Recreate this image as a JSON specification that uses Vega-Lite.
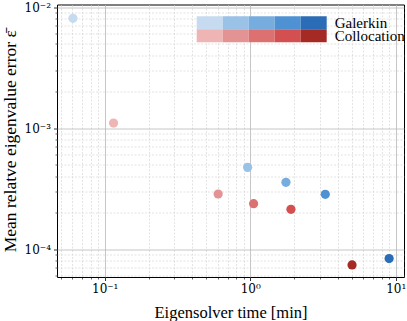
{
  "$schema": "https://vega.github.io/schema/vega-lite/v6.json",
  "width": 347,
  "height": 272.5,
  "autosize": {"type": "none"},
  "padding": {"left": 57, "top": 4.5, "right": 3, "bottom": 44},
  "config": {
    "font": "Liberation Serif",
    "view": {"stroke": "black", "strokeWidth": 1},
    "axis": {
      "domain": false,
      "labelFont": "DejaVu Serif",
      "titleFont": "Liberation Serif",
      "labelColor": "black",
      "titleColor": "black",
      "tickColor": "black",
      "titleFontWeight": "normal",
      "labelFontSize": 12,
      "titleFontSize": 16.5
    },
    "legend": {
      "titleFont": "Liberation Serif",
      "titleFontSize": 15,
      "titleFontWeight": "normal",
      "titleColor": "black"
    }
  },
  "data": {
    "values": [
      {"method": "Galerkin", "level": 1, "time": 0.0605, "error": 0.00807},
      {"method": "Galerkin", "level": 2, "time": 0.96, "error": 0.000473},
      {"method": "Galerkin", "level": 3, "time": 1.76, "error": 0.000356},
      {"method": "Galerkin", "level": 4, "time": 3.28, "error": 0.000283},
      {"method": "Galerkin", "level": 5, "time": 9.01, "error": 0.0000834},
      {"method": "Collocation", "level": 1, "time": 0.115, "error": 0.0011},
      {"method": "Collocation", "level": 2, "time": 0.602, "error": 0.000285},
      {"method": "Collocation", "level": 3, "time": 1.055, "error": 0.000237},
      {"method": "Collocation", "level": 4, "time": 1.905, "error": 0.000213},
      {"method": "Collocation", "level": 5, "time": 5.01, "error": 0.0000738}
    ]
  },
  "layer": [
    {
      "transform": [{"filter": "datum.method == 'Galerkin'"}],
      "mark": {"type": "circle", "size": 85, "opacity": 1},
      "encoding": {
        "x": {
          "field": "time", "type": "quantitative",
          "scale": {"type": "log", "domain": [0.047, 11.4], "nice": false},
          "axis": {
            "orient": "bottom", "title": null, "labels": false,
            "values": [0.05, 0.06, 0.07, 0.08, 0.09, 0.2, 0.3, 0.4, 0.5, 0.6, 0.7, 0.8, 0.9, 2, 3, 4, 5, 6, 7, 8, 9],
            "tickSize": 2, "tickWidth": 0.6,
            "grid": true, "gridColor": "#d0d0d0", "gridDash": [2, 1.5], "gridWidth": 0.6
          }
        },
        "y": {
          "field": "error", "type": "quantitative",
          "scale": {"type": "log", "domain": [0.0000587, 0.0105], "nice": false},
          "axis": {
            "orient": "left", "title": null, "labels": false,
            "values": [0.00006, 0.00007, 0.00008, 0.00009, 0.0002, 0.0003, 0.0004, 0.0005, 0.0006, 0.0007, 0.0008, 0.0009, 0.002, 0.003, 0.004, 0.005, 0.006, 0.007, 0.008, 0.009],
            "tickSize": 2, "tickWidth": 0.6,
            "grid": true, "gridColor": "#d0d0d0", "gridDash": [2, 1.5], "gridWidth": 0.6
          }
        },
        "color": {
          "field": "level", "type": "ordinal",
          "scale": {"domain": [1, 2, 3, 4, 5], "range": ["#c6dbef", "#9ac2e6", "#77acdf", "#4f92d3", "#2a6cb5"]},
          "legend": {
            "orient": "none", "legendX": 139.7, "legendY": 5,
            "direction": "horizontal", "columns": 5,
            "title": "Galerkin", "titleOrient": "right", "titlePadding": 8,
            "titleAnchor": "middle", "titleBaseline": "line-top", "titleLineHeight": 7,
            "labelExpr": "''", "labelFontSize": 1, "labelOffset": 0,
            "symbolType": "M-1,-0.5H1V0.5H-1Z", "symbolSize": 676,
            "symbolStrokeWidth": 0, "symbolOpacity": 1,
            "columnPadding": 0, "rowPadding": 0, "padding": 0
          }
        }
      }
    },
    {
      "transform": [{"filter": "datum.method == 'Collocation'"}],
      "mark": {"type": "circle", "size": 85, "opacity": 1},
      "encoding": {
        "x": {
          "field": "time", "type": "quantitative",
          "scale": {"type": "log", "domain": [0.047, 11.4], "nice": false},
          "axis": {
            "orient": "bottom", "title": "Eigensolver time [min]",
            "values": [0.1, 1, 10],
            "labelExpr": "datum.value < 0.5 ? '10⁻¹' : datum.value < 5 ? '10⁰' : '10¹'",
            "tickSize": 3.5, "tickWidth": 0.8, "labelPadding": 3,
            "titlePadding": 10,
            "grid": true, "gridColor": "#b8b8b8", "gridWidth": 0.8
          }
        },
        "y": {
          "field": "error", "type": "quantitative",
          "scale": {"type": "log", "domain": [0.0000587, 0.0105], "nice": false},
          "axis": {
            "orient": "left", "title": "Mean relatve eigenvalue error ε̄",
            "values": [0.0001, 0.001, 0.01],
            "labelExpr": "datum.value < 0.0005 ? '10⁻⁴' : datum.value < 0.005 ? '10⁻³' : '10⁻²'",
            "tickSize": 3.5, "tickWidth": 0.8, "labelPadding": 3,
            "titlePadding": 5, "titleFontSize": 17.5,
            "grid": true, "gridColor": "#b8b8b8", "gridWidth": 0.8
          }
        },
        "color": {
          "field": "level", "type": "ordinal",
          "scale": {"domain": [1, 2, 3, 4, 5], "range": ["#efb5b5", "#e49394", "#dd7172", "#d34f50", "#a52a23"]},
          "legend": {
            "orient": "none", "legendX": 139.7, "legendY": 18,
            "direction": "horizontal", "columns": 5,
            "title": "Collocation", "titleOrient": "right", "titlePadding": 8,
            "titleAnchor": "middle", "titleBaseline": "line-top", "titleLineHeight": 7,
            "labelExpr": "''", "labelFontSize": 1, "labelOffset": 0,
            "symbolType": "M-1,-0.5H1V0.5H-1Z", "symbolSize": 676,
            "symbolStrokeWidth": 0, "symbolOpacity": 1,
            "columnPadding": 0, "rowPadding": 0, "padding": 0
          }
        }
      }
    }
  ],
  "resolve": {
    "scale": {"color": "independent"},
    "axis": {"x": "independent", "y": "independent"}
  }
}
